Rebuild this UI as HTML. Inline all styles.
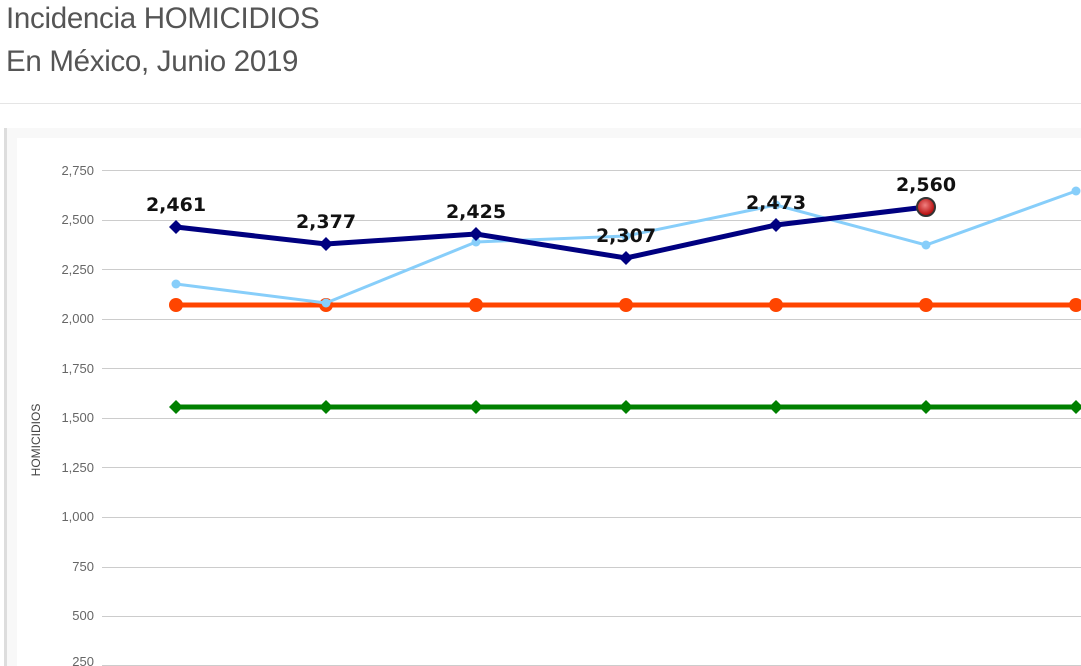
<!DOCTYPE html>
<html><head><style>
body{margin:0;width:1081px;height:666px;overflow:hidden;background:#fff;font-family:"Liberation Sans",sans-serif}
.t{position:absolute;left:6px;color:#555;font-size:29.5px;letter-spacing:-0.3px}
</style></head><body>
<div class="t" style="top:2px">Incidencia HOMICIDIOS</div>
<div class="t" style="top:45px">En México, Junio 2019</div>
<div style="position:absolute;left:0;top:103px;width:1081px;height:1px;background:#e5e5e5"></div>
<div style="position:absolute;left:4px;top:128px;width:1077px;height:538px;background:#f8f8f8;border-left:3px solid #ddd"></div>
<div style="position:absolute;left:17px;top:138px;width:1064px;height:528px;background:#fff"></div>
<svg style="position:absolute;left:0;top:0" width="1081" height="666">
<g stroke="#ccc" stroke-width="1">
<line x1="102" x2="1081" y1="170.5" y2="170.5"/><line x1="102" x2="1081" y1="220.5" y2="220.5"/>
<line x1="102" x2="1081" y1="269.5" y2="269.5"/><line x1="102" x2="1081" y1="319.5" y2="319.5"/>
<line x1="102" x2="1081" y1="368.5" y2="368.5"/><line x1="102" x2="1081" y1="418.5" y2="418.5"/>
<line x1="102" x2="1081" y1="467.5" y2="467.5"/><line x1="102" x2="1081" y1="517.5" y2="517.5"/>
<line x1="102" x2="1081" y1="567.5" y2="567.5"/><line x1="102" x2="1081" y1="616.5" y2="616.5"/>
<line x1="102" x2="1081" y1="665.5" y2="665.5"/>
</g>
<g fill="#666" font-size="13" text-anchor="end">
<text x="94" y="175">2,750</text><text x="94" y="224">2,500</text><text x="94" y="274">2,250</text>
<text x="94" y="323">2,000</text><text x="94" y="373">1,750</text><text x="94" y="422">1,500</text>
<text x="94" y="472">1,250</text><text x="94" y="521">1,000</text><text x="94" y="571">750</text>
<text x="94" y="620">500</text><text x="94" y="666">250</text>
</g>
<text transform="translate(40,440) rotate(-90)" text-anchor="middle" font-size="12" fill="#444">HOMICIDIOS</text>
<line x1="176" x2="1081" y1="407" y2="407" stroke="#008000" stroke-width="5"/>
<g fill="#008000">
<path d="M176 400l7 7-7 7-7-7z"/><path d="M326 400l7 7-7 7-7-7z"/><path d="M476 400l7 7-7 7-7-7z"/><path d="M626 400l7 7-7 7-7-7z"/><path d="M776 400l7 7-7 7-7-7z"/><path d="M926 400l7 7-7 7-7-7z"/><path d="M1076 400l7 7-7 7-7-7z"/>
</g>
<line x1="176" x2="1081" y1="305" y2="305" stroke="#ff4500" stroke-width="5"/>
<g fill="#ff4500"><circle cx="176" cy="305" r="7"/><circle cx="326" cy="305" r="7"/><circle cx="476" cy="305" r="7"/><circle cx="626" cy="305" r="7"/><circle cx="776" cy="305" r="7"/><circle cx="926" cy="305" r="7"/><circle cx="1076" cy="305" r="7"/></g>
<polyline fill="none" stroke="#87cefa" stroke-width="3" points="176,284 326,303 476,242 626,236 776,205 926,245 1076,191"/>
<g fill="#87cefa"><circle cx="176" cy="284" r="4.5"/><circle cx="326" cy="303" r="4.5"/><circle cx="476" cy="242" r="4.5"/><circle cx="626" cy="236" r="4.5"/><circle cx="776" cy="205" r="4.5"/><circle cx="926" cy="245" r="4.5"/><circle cx="1076" cy="191" r="4.5"/></g>
<polyline fill="none" stroke="#000080" stroke-width="5" points="176,227 326,244 476,234 626,258 776,225 926,207"/>
<g fill="#000080"><path d="M176 220l7 7-7 7-7-7z"/><path d="M326 237l7 7-7 7-7-7z"/><path d="M476 227l7 7-7 7-7-7z"/><path d="M626 251l7 7-7 7-7-7z"/><path d="M776 218l7 7-7 7-7-7z"/></g>
<defs><radialGradient id="g" cx="0.45" cy="0.4" r="0.6"><stop offset="0" stop-color="#f08080"/><stop offset="1" stop-color="#b00000"/></radialGradient></defs>
<circle cx="926" cy="207" r="9" fill="url(#g)" stroke="#333" stroke-width="2"/>
<g font-size="19" font-weight="bold" fill="#111" text-anchor="middle" font-family="DejaVu Sans, sans-serif">
<text x="176" y="211">2,461</text><text x="326" y="228">2,377</text><text x="476" y="218">2,425</text>
<text x="626" y="242">2,307</text><text x="776" y="209">2,473</text><text x="926" y="191">2,560</text>
</g>
</svg>
</body></html>
